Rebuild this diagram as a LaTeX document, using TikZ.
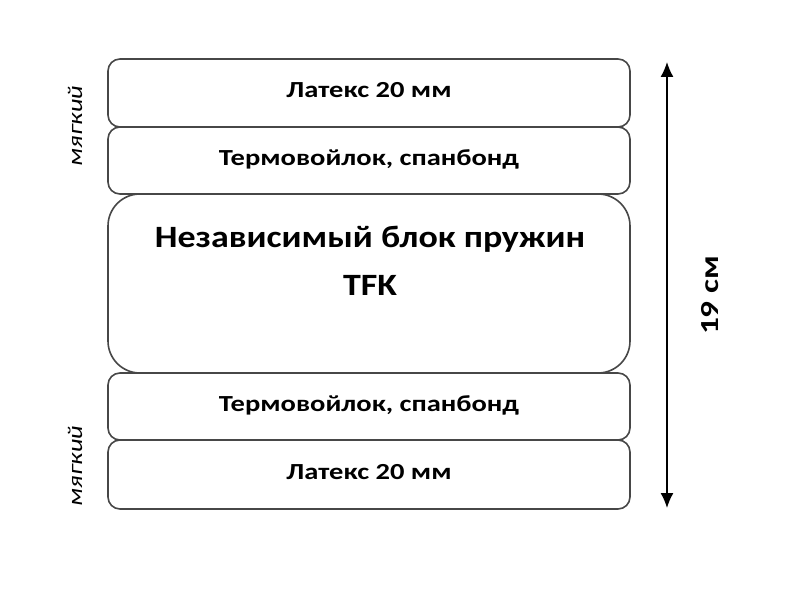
\documentclass[tikz,border=0pt]{standalone}
\usepackage{fontspec}
\setmainfont{Carlito}
\newfontfamily\boxfont[FakeStretch=1.24]{Carlito}
\newfontfamily\corefont[FakeStretch=1.16]{Carlito}
\newfontfamily\softfont[FakeStretch=1.26]{Carlito}
\newfontfamily\dimfont[FakeStretch=1.28]{Carlito}
\usetikzlibrary{arrows.meta}
\begin{document}
\begin{tikzpicture}[x=1pt,y=1pt,
  layer/.style={draw=black!72,line width=1.6pt,rounded corners=12pt,minimum width=522pt,inner sep=0pt,
    text height=15pt,text depth=5pt,font=\boxfont\bfseries\fontsize{23}{26}\selectfont},
  bigtext/.style={font=\corefont\bfseries\fontsize{31}{36}\selectfont,inner sep=0pt,anchor=base},
  soft/.style={rotate=90,anchor=base,font=\softfont\itshape\fontsize{21}{24}\selectfont,inner sep=0pt},
  dim/.style={draw=black,line width=1.4pt,{Latex[length=15pt,width=13pt]}-{Latex[length=15pt,width=13pt]}}]
\useasboundingbox[fill=white] (0,0) rectangle (800,600);
\node[layer,minimum height=68pt] (l1) at (369,507) {Латекс 20 мм};
\node[layer,minimum height=67pt] (l2) at (369,439.5) {Термовойлок, спанбонд};
\node[layer,minimum height=179pt,rounded corners=32pt] (core) at (369,316.5) {};
\node[bigtext] (coretexta) at (370,352) {Независимый блок пружин};
\node[bigtext] (coretextb) at (370,304) {TFK};
\node[layer,minimum height=67pt] (l4) at (369,193.5) {Термовойлок, спанбонд};
\node[layer,minimum height=69pt] (l5) at (369,125.5) {Латекс 20 мм};
\node[soft] (s1) at (82,474) {мягкий};
\node[soft] (s2) at (82,134) {мягкий};
\coordinate (top) at (667,538);
\coordinate (bot) at (667,92);
\draw[dim] (top) -- (bot);
\node[rotate=90,anchor=base,font=\dimfont\bfseries\fontsize{26}{28}\selectfont,inner sep=0pt] (h) at (718,304.5) {19 см};
\end{tikzpicture}
\end{document}
